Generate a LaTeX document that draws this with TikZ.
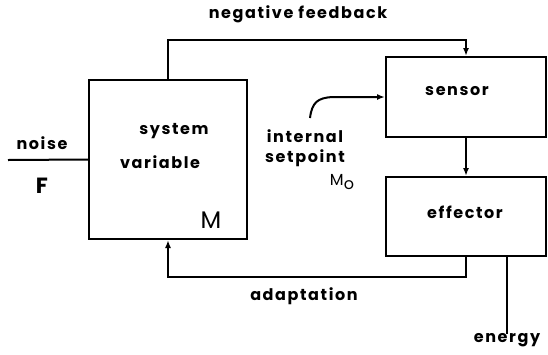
\documentclass[tikz,border=0pt]{standalone}
\usepackage{fontspec}
\setmainfont{Poppins}[LetterSpace=10]
\usetikzlibrary{arrows.meta}

\begin{document}
\begin{tikzpicture}[x=1pt,y=-1pt,line width=2pt,font=\fontsize{16}{18}\selectfont\bfseries,
  box/.style={draw,rectangle,inner sep=0pt},
  lbl/.style={inner sep=0pt},
  tip/.style={-{Latex[length=8pt,width=6pt]}}]
  \useasboundingbox (0,0) rectangle (548,354);

  \node[box,minimum width=158pt,minimum height=159pt] (sys) at (168,159.5) {};
  \node[box,minimum width=160pt,minimum height=80pt] (sensor) at (466,97) {};
  \node[box,minimum width=160pt,minimum height=79pt] (effector) at (466,216.5) {};

  \node[lbl] (system) at (174,131) {system};
  \node[lbl] (variable) at (160,162) {variable};
  \node[lbl] (m) at (211,220) {\fontsize{24}{26}\selectfont\mdseries M};
  \node[lbl] (sensortxt) at (457,91) {sensor};
  \node[lbl] (effectortxt) at (465,212) {effector};
  \node[lbl] (feedback) at (298,14) {negative feedback};
  \node[lbl] (adaptation) at (304,296) {adaptation};
  \node[lbl] (noise) at (42,143) {noise};
  \node[lbl] (f) at (42,186) {\fontsize{22}{24}\selectfont F};
  \node[lbl] (energy) at (507,340) {energy};
  \node[lbl] (internal) at (305,136) {internal};
  \node[lbl] (setpoint) at (305,158) {setpoint};
  \node[lbl] (mo) at (342,182) {\mdseries M\raisebox{-4pt}{o}};

  \coordinate (noise in) at (8,160);
  \coordinate (sp start) at (310,118);

  \draw[tip] (sys.north) -- ++(0,-39) -| (sensor.north);
  \draw[tip] (sensor.south) -- (effector.north);
  \draw[tip] (effector.south) -- ++(0,20) -| (sys.south);
  \draw (effector.south -| energy.north) -- ([yshift=-2pt]energy.north);
  \draw (noise in) -- (sys.west);
  \draw[tip] (sp start) .. controls (312,102) and (318,98) .. (332,97) -- (sensor.west);

\end{tikzpicture}
\end{document}
